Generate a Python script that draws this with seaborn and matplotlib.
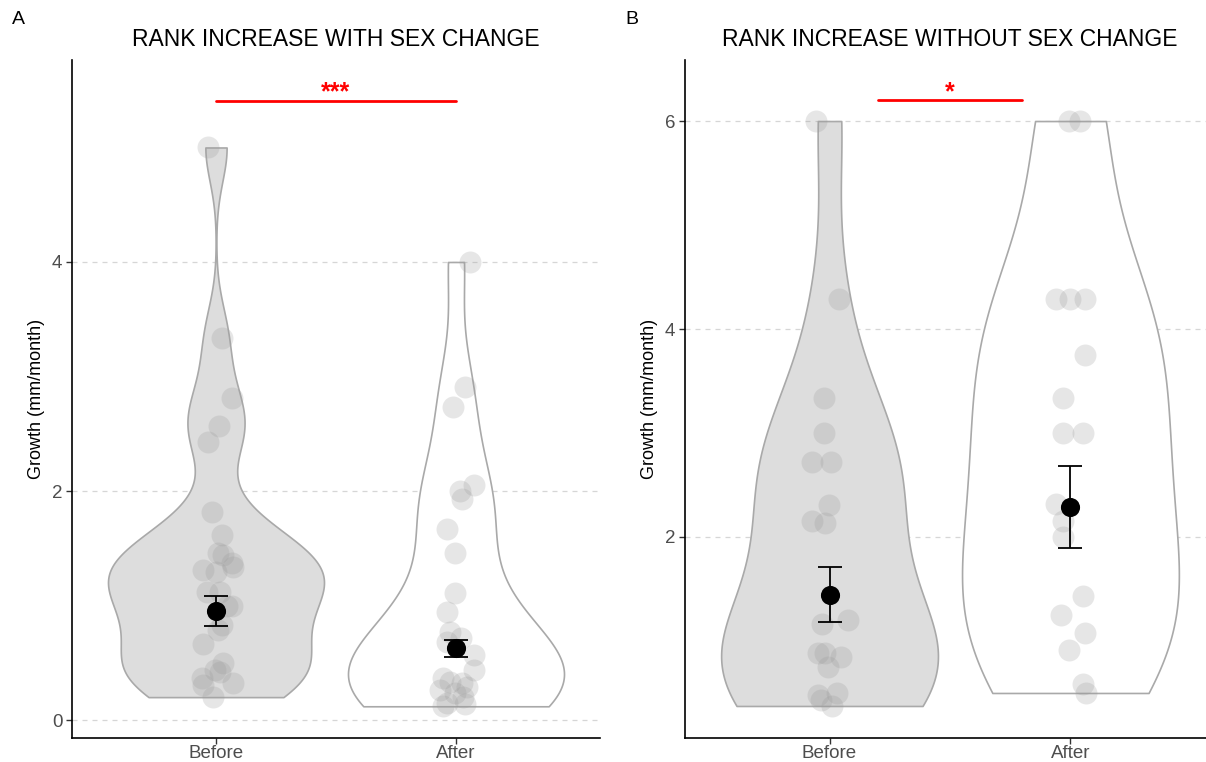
import numpy as np
import pandas as pd
import matplotlib
matplotlib.use("Agg")
import matplotlib.pyplot as plt
import seaborn as sns

# ---------------- data ----------------
groups = ["Before", "After"]

a_before = [5.0, 3.34, 2.81, 2.57, 2.43, 1.82, 1.62, 1.46, 1.44, 1.37, 1.34, 1.31, 1.29,
            1.12, 1.12, 1.0, 1.0, 0.83, 0.79, 0.66, 0.50, 0.44, 0.42, 0.37, 0.31, 0.32, 0.20]
a_before_jit = [-0.033, 0.025, 0.067, 0.013, -0.033, -0.017, 0.025, 0.008, 0.029, 0.067, 0.071,
                -0.054, 0.0, -0.038, 0.017, 0.067, 0.046, 0.025, 0.008, -0.054, 0.029, -0.004,
                0.017, -0.058, -0.054, 0.071, -0.013]
a_after = [4.0, 2.91, 2.73, 2.05, 2.0, 1.93, 1.67, 1.46, 1.11, 0.94, 0.77, 0.72, 0.68, 0.57,
           0.44, 0.37, 0.33, 0.32, 0.29, 0.26, 0.24, 0.20, 0.15, 0.14, 0.12]
a_after_jit = [0.058, 0.038, -0.013, 0.075, 0.017, 0.025, -0.038, -0.004, -0.004, -0.038, -0.025,
               0.021, -0.038, 0.075, 0.075, -0.054, -0.025, 0.025, 0.046, -0.067, -0.004, 0.029,
               -0.038, 0.038, -0.054]

b_before = [6.0, 4.29, 3.34, 3.0, 2.72, 2.72, 2.31, 2.15, 2.13, 1.2, 1.16, 0.88, 0.88, 0.85,
            0.75, 0.50, 0.48, 0.43, 0.375]
b_before_jit = [-0.058, 0.041, -0.025, -0.025, -0.071, 0.008, -0.004, -0.071, -0.017, 0.075,
                -0.033, -0.05, -0.017, 0.046, -0.008, 0.033, -0.05, -0.037, 0.012]
b_after = [6.0, 6.0, 4.29, 4.29, 4.29, 3.75, 3.34, 3.0, 3.0, 2.32, 2.15, 2.0, 1.43, 1.25,
           1.08, 0.91, 0.59, 0.50]
b_after_jit = [-0.004, 0.041, -0.062, 0.0, 0.062, 0.062, -0.033, -0.029, 0.05, -0.058, -0.029,
               -0.029, 0.054, -0.041, 0.062, -0.008, 0.054, 0.066]

a_mean = [0.95, 0.63]
a_se_low = [0.82, 0.55]
a_se_high = [1.08, 0.70]
b_mean = [1.44, 2.29]
b_se_low = [1.18, 1.89]
b_se_high = [1.71, 2.68]

titles = ["RANK INCREASE WITH SEX CHANGE", "RANK INCREASE WITHOUT SEX CHANGE"]
panel_tags = ["A", "B"]
sig_labels = ["***", "*"]
sig_heights = [5.41, 6.20]
sig_spans = [(0.0, 1.0), (0.2, 0.8)]
y_ticks = [[0, 2, 4], [2, 4, 6]]
y_limits = [(-0.157, 5.764), (0.067, 6.587)]
bw_adjusts = [0.88, 1.0]
ylabel = "Growth (mm/month)"


def nrd0_factor(kde):
    """Silverman's rule of thumb as in R's bw.nrd0, returned as a scipy factor."""
    d = np.asarray(kde.dataset).ravel()
    sd = np.std(d, ddof=1)
    q75, q25 = np.percentile(d, [75, 25])
    lo = min(sd, (q75 - q25) / 1.34)
    if lo <= 0:
        lo = sd
    bw = 0.9 * lo * len(d) ** (-0.2)
    return bw / sd


# ---------------- style ----------------
sns.set_theme(style="white")
plt.rcParams["font.family"] = ["Liberation Sans", "DejaVu Sans"]

W, H = 1206, 762
fig = plt.figure(figsize=(W / 100, H / 100), dpi=100)


def px_axes(l, r, t, b):
    return fig.add_axes([l / W, (H - b) / H, (r - l) / W, (b - t) / H])


axA = px_axes(72, 600, 60, 738)
axB = px_axes(685, 1215, 60, 738)

panels = [
    (axA, a_before, a_after, a_before_jit, a_after_jit, a_mean, a_se_low, a_se_high),
    (axB, b_before, b_after, b_before_jit, b_after_jit, b_mean, b_se_low, b_se_high),
]

palette = {"Before": "#dddddd", "After": "#ffffff"}

for i, (ax, bef, aft, bj, aj, mn, lo, hi) in enumerate(panels):
    df = pd.DataFrame({
        "group": ["Before"] * len(bef) + ["After"] * len(aft),
        "growth": bef + aft,
        "xpos": [0 + j for j in bj] + [1 + j for j in aj],
    })
    # grid
    ax.set_axisbelow(True)
    ax.yaxis.grid(True, color="#d6d6d6", linestyle=(0, (4, 4)), linewidth=0.9)
    ax.xaxis.grid(False)

    sns.violinplot(data=df, x="group", y="growth", hue="group", order=groups,
                   hue_order=groups, palette=palette, saturation=1, cut=0, inner=None,
                   linecolor="#a9a9a9", linewidth=1.2, density_norm="area",
                   bw_method=nrd0_factor, bw_adjust=bw_adjusts[i], gridsize=400, width=0.9,
                   legend=False, ax=ax)

    sns.scatterplot(data=df, x="xpos", y="growth", color="#999999", alpha=0.24,
                    s=250, linewidth=0, legend=False, ax=ax, zorder=3)

    mdf = pd.DataFrame({"x": [0, 1], "mean": mn, "lo": lo, "hi": hi})
    ax.errorbar(mdf["x"], mdf["mean"],
                yerr=[mdf["mean"] - mdf["lo"], mdf["hi"] - mdf["mean"]],
                fmt="none", ecolor="black", elinewidth=1.3, capsize=8.5, capthick=1.3, zorder=4)
    sns.scatterplot(data=mdf, x="x", y="mean", color="black", s=190, linewidth=0,
                    legend=False, ax=ax, zorder=5)

    # significance
    x0, x1 = sig_spans[i]
    ax.plot([x0, x1], [sig_heights[i]] * 2, color="red", linewidth=2, zorder=6)
    ax.text((x0 + x1) / 2, sig_heights[i] + 0.01, sig_labels[i], color="red",
            fontsize=18, fontweight="bold", ha="center", va="baseline")

    ax.set_xlim(-0.6, 1.6)
    ax.set_ylim(*y_limits[i])
    ax.set_yticks(y_ticks[i])
    ax.set_xticks([0, 1])
    ax.set_xticklabels(groups)
    ax.set_xlabel("")
    ax.set_ylabel(ylabel, fontsize=13, color="black", labelpad=5)
    ax.set_title(titles[i], fontsize=16.5, color="black", pad=10)
    for s in ["top", "right"]:
        ax.spines[s].set_visible(False)
    for s in ["left", "bottom"]:
        ax.spines[s].set_color("black")
        ax.spines[s].set_linewidth(1.2)
    ax.tick_params(axis="both", which="major", length=4, width=1.0, color="#333333",
                   labelcolor="#4d4d4d", labelsize=13.5, left=True, bottom=True)
    ax.tick_params(axis="y", pad=3)
    ax.tick_params(axis="x", pad=1)

fig.text(12 / W, 1 - 20 / H, panel_tags[0], fontsize=14, ha="left", va="center", color="black")
fig.text(625 / W, 1 - 20 / H, panel_tags[1], fontsize=14, ha="left", va="center", color="black")

fig.savefig("out.png", dpi=100)
